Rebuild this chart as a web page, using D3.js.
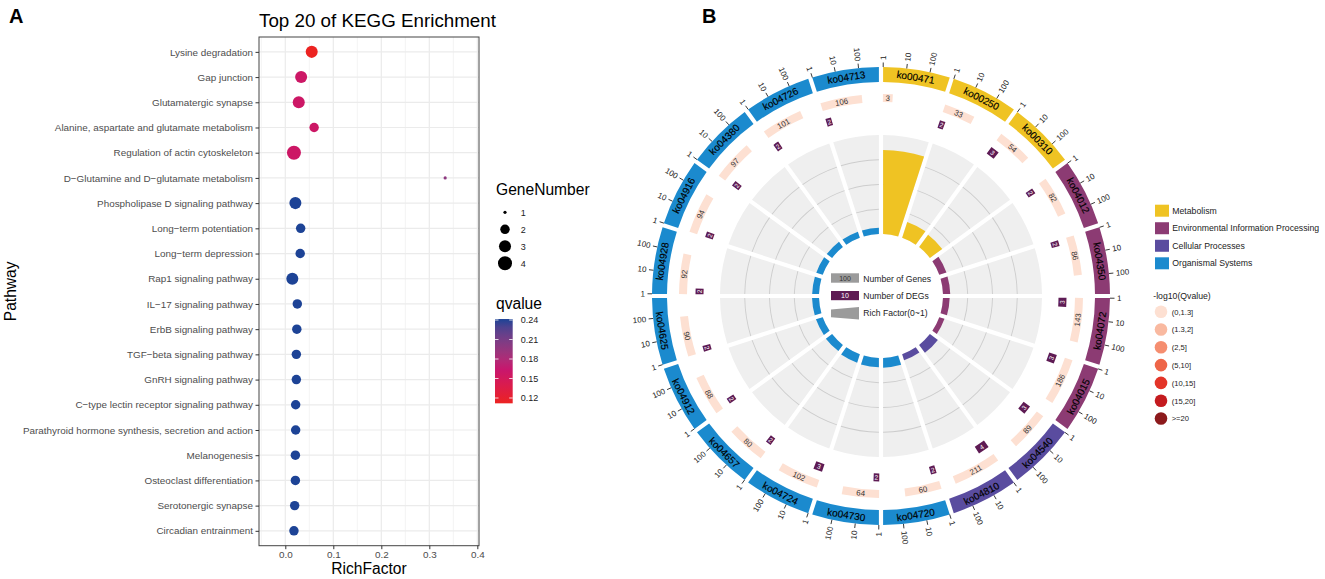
<!DOCTYPE html>
<html><head><meta charset="utf-8">
<script src="https://cdn.jsdelivr.net/npm/d3@7"></script>
<style>body{margin:0;background:#fff;} svg{display:block;font-family:"Liberation Sans",Arial,Helvetica,sans-serif;}</style>
</head><body><svg id="c" width="1325" height="579"></svg>
<script>
// ---------- Panel A data ----------
const pathways = ["Lysine degradation","Gap junction","Glutamatergic synapse","Alanine, aspartate and glutamate metabolism","Regulation of actin cytoskeleton","D\u2212Glutamine and D\u2212glutamate metabolism","Phospholipase D signaling pathway","Long\u2212term potentiation","Long\u2212term depression","Rap1 signaling pathway","IL\u221217 signaling pathway","ErbB signaling pathway","TGF\u2212beta signaling pathway","GnRH signaling pathway","C\u2212type lectin receptor signaling pathway","Parathyroid hormone synthesis, secretion and action","Melanogenesis","Osteoclast differentiation","Serotonergic synapse","Circadian entrainment"];
const richFactor = [0.055,0.033,0.028,0.060,0.018,0.333,0.021,0.032,0.031,0.0146,0.025,0.024,0.023,0.023,0.0216,0.0216,0.021,0.021,0.0195,0.018];
const geneNumber = [3,3,3,2,4,1,3,2,2,3,2,2,2,2,2,2,2,2,2,2];
const qvalue = [0.112,0.158,0.158,0.158,0.158,0.199,0.2415,0.2415,0.2415,0.2415,0.2415,0.2415,0.2415,0.2415,0.2415,0.2415,0.2415,0.2415,0.2415,0.2415];
const xTicks = [0,0.1,0.2,0.3,0.4];
const xMinor = [-0.05,0.05,0.15,0.25,0.35];
const qTicks = [0.12,0.15,0.18,0.21,0.24];
const sizeTicks = [1,2,3,4];

// ---------- Panel B data ----------
const koIds = ["ko00471","ko00250","ko00310","ko04012","ko04350","ko04072","ko04015","ko04540","ko04810","ko04720","ko04730","ko04724","ko04657","ko04912","ko04625","ko04928","ko04916","ko04380","ko04726","ko04713"];
const koClass = [0,0,0,1,1,1,1,2,2,3,3,3,3,3,3,3,3,3,3,3];
const koGenes = [3,33,54,82,86,143,186,89,211,60,64,102,80,88,90,92,94,97,101,106];
const koDEGs = [1,2,3,2,2,3,3,3,4,2,2,3,2,2,2,2,2,2,2,2];
const koRich = [0.333,0.0606,0.0556,0.0244,0.0233,0.021,0.0161,0.0337,0.019,0.0333,0.0313,0.0294,0.025,0.0227,0.0222,0.0217,0.0213,0.0206,0.0198,0.0189];
const classNames = ["Metabolism","Environmental Information Processing","Cellular Processes","Organismal Systems"];
const classColors = ["#efc323","#8c3b73","#5a4c9f","#1b8ace"];
const qBins = ["(0,1.3]","(1.3,2]","(2,5]","(5,10]","(10,15]","(15,20]",">=20"];
const qBinColors = ["#fde0d2","#f9b9a0","#f58e70","#ee6548","#e33428","#c41b1f","#8c1a1c"];
const logTicks = [1,10,100];

const svg = d3.select("#c");

// ================= PANEL A =================
const A = {l:259, r:479, t:37, b:545.7};
const x = d3.scaleLinear().domain([-0.0548,0.4035]).range([A.l,A.r]);
const y = d3.scalePoint().domain(pathways).range([A.t,A.b]).padding(0.59);
const color = d3.scaleLinear().domain([0.1118,0.165,0.2415]).range(["#ec2321","#c7166f","#1d4396"]).interpolate(d3.interpolateLab).clamp(true);
const sizeR = v => d3.scaleLinear().domain([0,1]).range([1.6,7])(Math.sqrt((v-1)/3));

const gA = svg.append("g");
gA.append("text").attr("x",9).attr("y",23).attr("font-size",20).attr("font-weight","bold").text("A");
gA.append("text").attr("x",A.l).attr("y",27).attr("font-size",18.8).attr("fill","#000").text("Top 20 of KEGG Enrichment");

gA.selectAll("line.minor").data(xMinor).join("line").attr("x1",d=>x(d)).attr("x2",d=>x(d)).attr("y1",A.t).attr("y2",A.b).attr("stroke","#ebebeb").attr("stroke-width",0.6);
gA.selectAll("line.majx").data(xTicks).join("line").attr("x1",d=>x(d)).attr("x2",d=>x(d)).attr("y1",A.t).attr("y2",A.b).attr("stroke","#ebebeb").attr("stroke-width",1.2);
gA.selectAll("line.majy").data(pathways).join("line").attr("x1",A.l).attr("x2",A.r).attr("y1",d=>y(d)).attr("y2",d=>y(d)).attr("stroke","#ebebeb").attr("stroke-width",1.2);

gA.selectAll("circle.dot").data(pathways).join("circle")
  .attr("cx",(d,i)=>x(richFactor[i])).attr("cy",d=>y(d)).attr("r",(d,i)=>sizeR(geneNumber[i]))
  .attr("fill",(d,i)=>color(qvalue[i]));

gA.append("rect").attr("x",A.l).attr("y",A.t).attr("width",A.r-A.l).attr("height",A.b-A.t).attr("fill","none").attr("stroke","#444").attr("stroke-width",1);

const axL = gA.append("g").attr("transform",`translate(${A.l},0)`).call(d3.axisLeft(y).tickSize(3.5).tickPadding(2.5));
axL.select(".domain").remove();
axL.selectAll("line").attr("stroke","#333");
axL.selectAll("text").attr("font-size",9.9).attr("fill","#4d4d4d").attr("font-family","Liberation Sans, Arial, sans-serif");
const axB = gA.append("g").attr("transform",`translate(0,${A.b})`).call(d3.axisBottom(x).tickValues(xTicks).tickFormat(d3.format(".1f")).tickSize(3.5).tickPadding(2));
axB.select(".domain").remove();
axB.selectAll("line").attr("stroke","#333");
axB.selectAll("text").attr("font-size",9.9).attr("fill","#4d4d4d").attr("font-family","Liberation Sans, Arial, sans-serif");

gA.append("text").attr("x",(A.l+A.r)/2).attr("y",574).attr("text-anchor","middle").attr("font-size",15.6).text("RichFactor");
gA.append("text").attr("transform",`translate(16,${(A.t+A.b)/2}) rotate(-90)`).attr("text-anchor","middle").attr("font-size",15.6).text("Pathway");

// legends A
gA.append("text").attr("x",496).attr("y",194.5).attr("font-size",15.6).text("GeneNumber");
const szY = d3.scaleLinear().domain([1,4]).range([212.3,263.3]);
sizeTicks.forEach(v=>{
  gA.append("circle").attr("cx",505).attr("cy",szY(v)).attr("r",sizeR(v)).attr("fill","#000");
  gA.append("text").attr("x",520.7).attr("y",szY(v)+3.2).attr("font-size",9).attr("fill","#222").text(v);
});
gA.append("text").attr("x",496).attr("y",308.5).attr("font-size",15.6).text("qvalue");
const qY = d3.scaleLinear().domain([0.12,0.24]).range([398,320]);
const grad = svg.append("defs").append("linearGradient").attr("id","qg").attr("x1",0).attr("y1",1).attr("x2",0).attr("y2",0);
d3.range(0,1.0001,0.1).forEach(t=>{
  const q = 0.1118 + t*(0.2415-0.1118);
  grad.append("stop").attr("offset",t).attr("stop-color",color(q));
});
gA.append("rect").attr("x",495).attr("y",qY(0.2415)).attr("width",17.7).attr("height",qY(0.1118)-qY(0.2415)).attr("fill","url(#qg)");
qTicks.forEach(v=>{
  gA.append("line").attr("x1",495).attr("x2",498.5).attr("y1",qY(v)).attr("y2",qY(v)).attr("stroke","#fff").attr("stroke-width",0.8);
  gA.append("line").attr("x1",509.2).attr("x2",512.7).attr("y1",qY(v)).attr("y2",qY(v)).attr("stroke","#fff").attr("stroke-width",0.8);
  gA.append("text").attr("x",520.7).attr("y",qY(v)+3.2).attr("font-size",9).attr("fill","#222").text(v.toFixed(2));
});

// ================= PANEL B =================
const cx = 881, cy = 296;
svg.append("text").attr("x",702).attr("y",23).attr("font-size",20).attr("font-weight","bold").text("B");
const gB = svg.append("g").attr("transform",`translate(${cx},${cy})`);
const N = koIds.length, secDeg = 360/N;
const rad = d => d*Math.PI/180;
const logS = d3.scaleLog().domain([1,Math.pow(10,2.86)]).range([0.55,secDeg-0.55]);
const angDeg = (i,v) => i*secDeg + logS(v);
const arc = d3.arc().padRadius(100);
const PAD = 0.042;

function tangent(r,deg){
  const a = rad(deg), n = ((deg%360)+360)%360;
  const rot = (n>=90 && n<270) ? n-180 : n;
  return `translate(${r*Math.sin(a)},${-r*Math.cos(a)}) rotate(${rot})`;
}

// grey track
const trackR0 = 62, trackR1 = 161, rfMax = 0.4;
const rfR = d3.scaleLinear().domain([0,rfMax]).range([trackR0,trackR1]);
koIds.forEach((k,i)=>{
  const s = rad(i*secDeg), e = rad((i+1)*secDeg);
  gB.append("path").attr("d",arc({innerRadius:trackR0,outerRadius:trackR1,startAngle:s,endAngle:e,padAngle:PAD})).attr("fill","#efefef");
  [0.1,0.2,0.3].forEach(t=>{
    gB.append("path").attr("d",arc({innerRadius:rfR(t)-0.45,outerRadius:rfR(t)+0.45,startAngle:s,endAngle:e,padAngle:PAD})).attr("fill","#cdcdcd");
  });
  gB.append("path").attr("d",arc({innerRadius:trackR0,outerRadius:rfR(koRich[i])+1.5,startAngle:s,endAngle:e,padAngle:PAD})).attr("fill",classColors[koClass[i]]);
  // outer ring
  gB.append("path").attr("d",arc({innerRadius:214,outerRadius:229,startAngle:s,endAngle:e,padAngle:PAD})).attr("fill",classColors[koClass[i]]);
  gB.append("text").attr("transform",tangent(221.5,(i+0.5)*secDeg)).attr("text-anchor","middle").attr("dy","0.36em").attr("font-size",10).attr("fill","#000").attr("stroke","#000").attr("stroke-width",0.15).text(k);
  // ticks
  logTicks.forEach(v=>{
    const d = angDeg(i,v), a = rad(d), n = ((d%360)+360)%360;
    gB.append("line").attr("x1",229*Math.sin(a)).attr("y1",-229*Math.cos(a)).attr("x2",233.5*Math.sin(a)).attr("y2",-233.5*Math.cos(a)).attr("stroke","#222").attr("stroke-width",0.9);
    const right = n<180;
    gB.append("text").attr("transform",`translate(${236*Math.sin(a)},${-236*Math.cos(a)}) rotate(${right? n-90 : n+90})`)
      .attr("text-anchor",right?"start":"end").attr("dy","0.35em").attr("font-size",8).attr("fill","#222").text(v);
  });
  // genes box
  const g0 = rad(angDeg(i,1)), g1 = rad(angDeg(i,koGenes[i]));
  gB.append("path").attr("d",arc({innerRadius:194,outerRadius:202,startAngle:g0,endAngle:g1,padAngle:0})).attr("fill",qBinColors[0]);
  gB.append("text").attr("transform",tangent(198,(angDeg(i,1)+angDeg(i,koGenes[i]))/2)).attr("text-anchor","middle").attr("dy","0.35em").attr("font-size",7.8).attr("fill","#333").text(koGenes[i]);
  // DEG box
  if (koDEGs[i]>1){
    const d1 = rad(angDeg(i,koDEGs[i]));
    gB.append("path").attr("d",arc({innerRadius:177.5,outerRadius:185.5,startAngle:g0,endAngle:d1,padAngle:0})).attr("fill","#5e1b54");
    gB.append("text").attr("transform",tangent(181.5,(angDeg(i,1)+angDeg(i,koDEGs[i]))/2)).attr("text-anchor","middle").attr("dy","0.35em").attr("font-size",6.5).attr("fill","#fff").text(koDEGs[i]);
  }
});

// center legend
const cl = svg.append("g");
cl.append("rect").attr("x",831).attr("y",273.3).attr("width",28).attr("height",9.4).attr("fill","#9b9b9b");
cl.append("text").attr("x",845).attr("y",280.7).attr("text-anchor","middle").attr("font-size",7).attr("fill","#333").text("100");
cl.append("text").attr("x",863.3).attr("y",281.7).attr("font-size",8.6).attr("fill","#222").text("Number of Genes");
cl.append("rect").attr("x",831).attr("y",291).attr("width",28).attr("height",9.2).attr("fill","#5e1b54");
cl.append("text").attr("x",845).attr("y",298.3).attr("text-anchor","middle").attr("font-size",7).attr("fill","#fff").text("10");
cl.append("text").attr("x",863.3).attr("y",298.8).attr("font-size",8.6).attr("fill","#222").text("Number of DEGs");
cl.append("polygon").attr("points","831,309.5 859,307 859,319.6 831,317.2").attr("fill","#9b9b9b");
cl.append("text").attr("x",863.3).attr("y",316).attr("font-size",8.6).attr("fill","#222").text("Rich Factor(0~1)");

// right legend
const rl = svg.append("g");
const cY = d3.scaleLinear().domain([0,3]).range([210.7,263.3]);
classNames.forEach((c,i)=>{
  rl.append("rect").attr("x",1155).attr("y",cY(i)-6).attr("width",14).attr("height",12).attr("fill",classColors[i]);
  rl.append("text").attr("x",1172.3).attr("y",cY(i)+3.1).attr("font-size",8.7).attr("fill","#222").text(c);
});
rl.append("text").attr("x",1153.3).attr("y",299).attr("font-size",8.7).attr("fill","#222").text("-log10(Qvalue)");
const bY = d3.scaleLinear().domain([0,6]).range([311.7,418.5]);
qBins.forEach((b,i)=>{
  rl.append("circle").attr("cx",1161).attr("cy",bY(i)).attr("r",6.3).attr("fill",qBinColors[i]);
  rl.append("text").attr("x",1171.7).attr("y",bY(i)+2.8).attr("font-size",7.6).attr("fill","#222").text(b);
});
</script></body></html>
